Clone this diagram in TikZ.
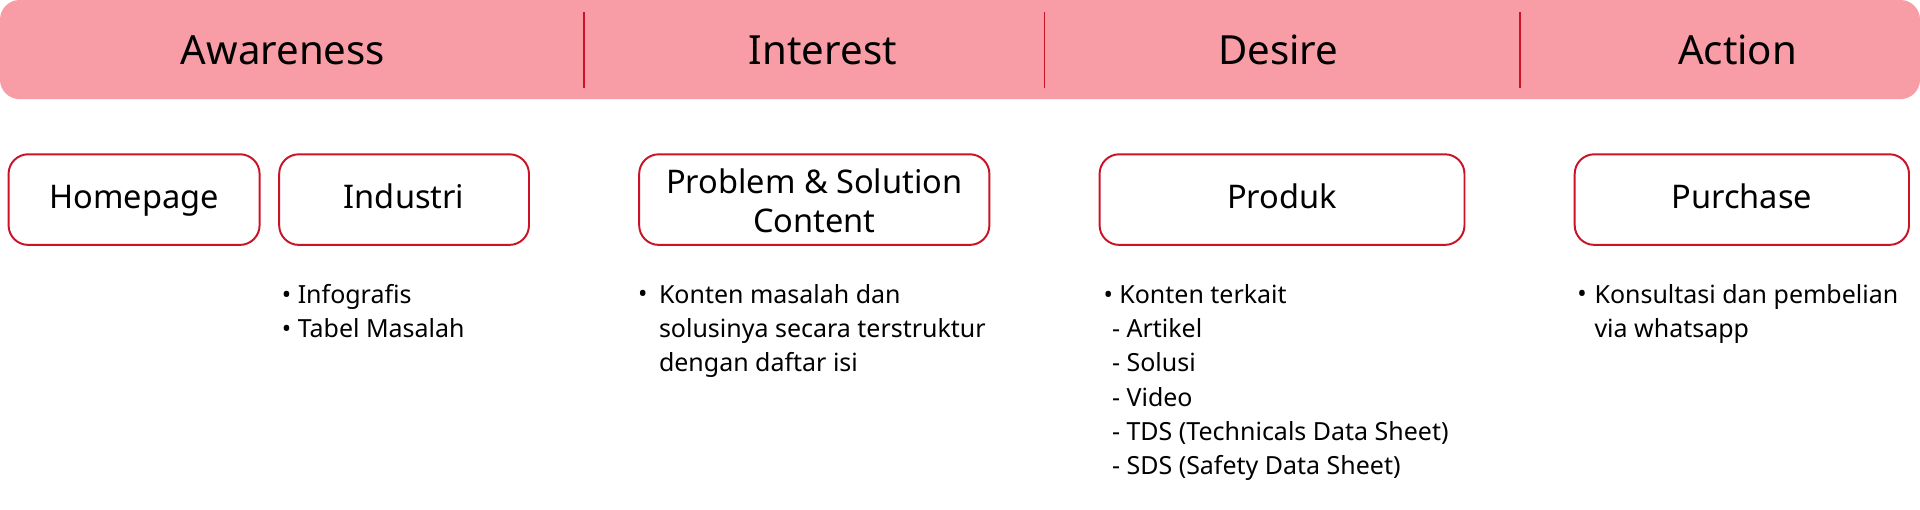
\documentclass[tikz,border=0pt]{standalone}
\usepackage{fontspec}
\setmainfont{Noto Sans}
\usetikzlibrary{positioning}
\definecolor{band}{RGB}{248,157,166}
\definecolor{edge}{RGB}{200,20,38}
\tikzset{hd/.style={font=\fontsize{32.8}{32.8}\selectfont, text height=23.5pt, text depth=0pt, inner sep=0pt}}
\tikzset{bx/.style={draw=edge, line width=1.6pt, rounded corners=16pt, fill=white, minimum height=74pt, inner sep=0pt, font=\fontsize{26.6}{32}\selectfont, text height=20pt, text depth=5pt}}
\tikzset{ls/.style={font=\fontsize{20.4}{28}\selectfont, align=left, anchor=north west, inner sep=0pt}}
\tikzset{bl/.style={font=\fontsize{20.4}{28}\selectfont, anchor=base west, inner sep=0pt}}

\begin{document}
\begin{tikzpicture}[x=1pt, y=-1pt, line join=round]
  \useasboundingbox (0,0) rectangle (1568,416.5);
  % stage band
  \fill[band, rounded corners=16pt] (0,0) rectangle (1568,81);
  \foreach \x in {477,853,1241}
    \draw[edge, line width=1.6pt] (\x,10) -- (\x,72);
  \node[hd] (aware) at (231,41) {Awareness};
  \node[hd] (inter) at (672,41) {Interest};
  \node[hd] (desire) at (1044,41) {Desire};
  \node[hd] (action) at (1419,41) {Action};

  % pages
  \node[bx, minimum width=205pt] (home) at (109.5,163) {Homepage};
  \node[bx, minimum width=204pt] (indus) at (330,163) {Industri};
  \node[bx, minimum width=286pt] (prob) at (665,163) {\raisebox{-3pt}{\begin{tabular}{@{}c@{}}Problem \& Solution\\Content\end{tabular}}};
  \node[bx, minimum width=298pt] (prod) at (1047,163) {Produk};
  \node[bx, minimum width=273pt] (purch) at (1422.5,163) {Purchase};

  % contents
  \node[ls] (indusl) at (230,232) {\textbullet\ Infografis\\\textbullet\ Tabel Masalah};

  \node[bl] (probb) at (521,247) {\textbullet};
  \node[ls] (probl) at (538,232) {Konten masalah dan\\solusinya secara terstruktur\\dengan daftar isi};

  \node[ls] (prodl) at (901,232) {\textbullet\ Konten terkait\\\hspace*{7pt}- Artikel\\\hspace*{7pt}- Solusi\\\hspace*{7pt}- Video\\\hspace*{7pt}- TDS (Technicals Data Sheet)\\\hspace*{7pt}- SDS (Safety Data Sheet)};

  \node[bl] (purchb) at (1288,247) {\textbullet};
  \node[ls] (purchl) at (1302,232) {Konsultasi dan pembelian\\via whatsapp};
\end{tikzpicture}
\end{document}
